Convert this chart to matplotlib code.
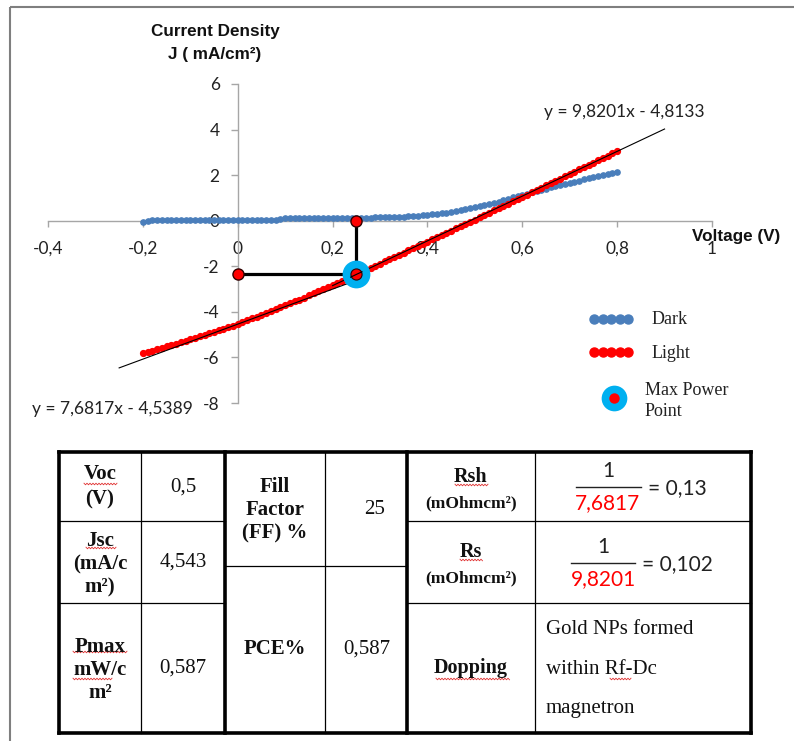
import numpy as np
import matplotlib
matplotlib.use("Agg")
import matplotlib.pyplot as plt
from matplotlib.ticker import FuncFormatter

# ---------------- data ----------------
voltage = [
    -0.20, -0.19, -0.18, -0.17, -0.16, -0.15, -0.14, -0.13, -0.12, -0.11,
    -0.10, -0.09, -0.08, -0.07, -0.06, -0.05, -0.04, -0.03, -0.02, -0.01,
    0.00, 0.01, 0.02, 0.03, 0.04, 0.05, 0.06, 0.07, 0.08, 0.09,
    0.10, 0.11, 0.12, 0.13, 0.14, 0.15, 0.16, 0.17, 0.18, 0.19,
    0.20, 0.21, 0.22, 0.23, 0.24, 0.25, 0.26, 0.27, 0.28, 0.29,
    0.30, 0.31, 0.32, 0.33, 0.34, 0.35, 0.36, 0.37, 0.38, 0.39,
    0.40, 0.41, 0.42, 0.43, 0.44, 0.45, 0.46, 0.47, 0.48, 0.49,
    0.50, 0.51, 0.52, 0.53, 0.54, 0.55, 0.56, 0.57, 0.58, 0.59,
    0.60, 0.61, 0.62, 0.63, 0.64, 0.65, 0.66, 0.67, 0.68, 0.69,
    0.70, 0.71, 0.72, 0.73, 0.74, 0.75, 0.76, 0.77, 0.78, 0.79,
    0.80,
]
j_dark = [
    -0.07, 0.00, 0.01, 0.02, 0.02, 0.02, 0.02, 0.02, 0.02, 0.02,
    0.02, 0.02, 0.02, 0.02, 0.02, 0.02, 0.02, 0.02, 0.02, 0.02,
    0.02, 0.02, 0.02, 0.02, 0.02, 0.02, 0.02, 0.02, 0.03, 0.09,
    0.10, 0.10, 0.10, 0.10, 0.10, 0.10, 0.10, 0.10, 0.10, 0.10,
    0.10, 0.10, 0.10, 0.10, 0.10, 0.10, 0.11, 0.11, 0.14, 0.15,
    0.15, 0.15, 0.15, 0.16, 0.17, 0.18, 0.19, 0.21, 0.22, 0.24,
    0.26, 0.28, 0.30, 0.32, 0.35, 0.38, 0.42, 0.46, 0.50, 0.54,
    0.58, 0.63, 0.68, 0.73, 0.78, 0.84, 0.90, 0.96, 1.02, 1.08,
    1.14, 1.19, 1.25, 1.30, 1.35, 1.41, 1.46, 1.52, 1.57, 1.62,
    1.67, 1.72, 1.76, 1.81, 1.86, 1.90, 1.95, 1.99, 2.04, 2.09,
    2.14,
]
j_light = [
    -5.82, -5.76, -5.70, -5.64, -5.58, -5.52, -5.46, -5.39, -5.33, -5.27,
    -5.20, -5.14, -5.07, -5.01, -4.94, -4.88, -4.81, -4.74, -4.67, -4.60,
    -4.53, -4.45, -4.37, -4.29, -4.21, -4.13, -4.05, -3.97, -3.89, -3.80,
    -3.72, -3.63, -3.54, -3.46, -3.37, -3.28, -3.19, -3.10, -3.01, -2.92,
    -2.83, -2.74, -2.64, -2.55, -2.45, -2.36, -2.26, -2.17, -2.07, -1.98,
    -1.88, -1.78, -1.69, -1.59, -1.50, -1.40, -1.30, -1.21, -1.11, -1.02,
    -0.92, -0.82, -0.73, -0.63, -0.54, -0.44, -0.34, -0.24, -0.15, -0.05,
    0.05, 0.15, 0.25, 0.35, 0.45, 0.55, 0.65, 0.75, 0.85, 0.95,
    1.05, 1.15, 1.25, 1.35, 1.45, 1.55, 1.65, 1.75, 1.85, 1.95,
    2.05, 2.15, 2.25, 2.35, 2.45, 2.55, 2.65, 2.75, 2.85, 2.95,
    3.05,
]

# linear fits: upper (series resistance) and lower (shunt) segments
fit_slopes = [9.8201, 7.6817]
fit_intercepts = [-4.8133, -4.5389]
fit_spans = [(0.20, 0.90), (-0.25, 0.24)]

# maximum power point
v_mpp = 0.25
j_mpp = -2.35

x_ticks = [-0.4, -0.2, 0.0, 0.2, 0.4, 0.6, 0.8, 1.0]
y_ticks = [-8, -6, -4, -2, 0, 2, 4, 6]

legend_labels = ["Dark", "Light", "Max Power\nPoint"]

# table values
voc_val = "0,5"
jsc_val = "4,543"
pmax_val = "0,587"
ff_val = "25"
pce_val = "0,587"
rsh_val = "0,13"
rs_val = "0,102"
dopping_lines = ["Gold NPs formed", "within Rf-Dc", "magnetron"]

# ---------------- figure ----------------
W, H = 794, 741
fig = plt.figure(figsize=(W / 100, H / 100), dpi=100)
fig.patch.set_facecolor("white")

# overlay in pixel coordinates for frame, legend, table
ov = fig.add_axes([0, 0, 1, 1])
ov.set_xlim(0, W)
ov.set_ylim(H, 0)
ov.axis("off")

SANS = ["Lato", "DejaVu Sans"]
ARIAL = ["Liberation Sans", "DejaVu Sans"]
SERIF = ["Liberation Serif", "DejaVu Serif"]

BLUE = "#4A7EBB"
RED = "#FF0000"
CYAN = "#00B0F0"

# chart frame
ov.plot([10, W + 5], [7, 7], color="#7F7F7F", lw=1.5, solid_capstyle="butt")
ov.plot([10, 10], [7, H + 5], color="#7F7F7F", lw=1.5, solid_capstyle="butt")

# ---------------- chart ----------------
ax = fig.add_axes([48 / W, 1 - 403 / H, (712 - 48) / W, (403 - 84) / H])
ax.patch.set_visible(False)
ax.set_xlim(-0.4, 1.0)
ax.set_ylim(-8, 6)
for s in ["top", "right"]:
    ax.spines[s].set_visible(False)
ax.spines["left"].set_position(("data", 0))
ax.spines["bottom"].set_position(("data", 0))
for s in ["left", "bottom"]:
    ax.spines[s].set_color("#A6A6A6")
    ax.spines[s].set_linewidth(1.0)

ax.set_xticks(x_ticks)
ax.set_yticks(y_ticks)
fmt = FuncFormatter(lambda v, p: f"{v:g}".replace(".", ","))
ax.xaxis.set_major_formatter(fmt)
ax.yaxis.set_major_formatter(fmt)
ax.tick_params(axis="x", direction="out", length=4.5, width=1, color="#A6A6A6",
               pad=10, labelsize=12.5)
ax.tick_params(axis="y", direction="out", length=5, width=1, color="#A6A6A6",
               pad=8, labelsize=12.5)
for lab in ax.get_xticklabels() + ax.get_yticklabels():
    lab.set_fontfamily(SANS)
    lab.set_color("#222222")

v = np.array(voltage)
ax.plot(v, j_dark, linestyle="none", marker="o", ms=3.8, color=BLUE, zorder=3)
ax.plot(v, j_light, linestyle="none", marker="o", ms=4.2, color=RED, zorder=4)

for m, b, (x0, x1) in zip(fit_slopes, fit_intercepts, fit_spans):
    xx = np.array([x0, x1])
    ax.plot(xx, m * xx + b, color="black", lw=0.8, zorder=5)

# max power rectangle guides
ax.plot([v_mpp, v_mpp], [0, j_mpp], color="black", lw=2.3, zorder=6,
        solid_capstyle="butt")
ax.plot([0, v_mpp], [j_mpp, j_mpp], color="black", lw=2.3, zorder=6,
        solid_capstyle="butt")
ax.plot([v_mpp, 0], [0, j_mpp], linestyle="none", marker="o", ms=8,
        markerfacecolor=RED, markeredgecolor="#300000", markeredgewidth=1,
        zorder=7, clip_on=False)
ax.plot([v_mpp], [j_mpp], linestyle="none", marker="o", ms=20, color=CYAN,
        markeredgewidth=0, zorder=6.5, clip_on=False)
ax.plot([v_mpp], [j_mpp], linestyle="none", marker="o", ms=8,
        markerfacecolor=RED, markeredgecolor="#300000", markeredgewidth=0.8,
        zorder=8, clip_on=False)
ax.plot(v_mpp + np.array([-0.012, 0.012]),
        fit_slopes[0] * (v_mpp + np.array([-0.012, 0.012])) + fit_intercepts[0],
        color="black", lw=0.8, zorder=9)

def eq_text(m, b):
    return f"y = {m:.4f}x - {abs(b):.4f}".replace(".", ",")

ov.text(705, 112, eq_text(fit_slopes[0], fit_intercepts[0]), ha="right",
        va="center", fontsize=12.5, family=SANS, color="#222222")
ov.text(193, 409, eq_text(fit_slopes[1], fit_intercepts[1]), ha="right",
        va="center", fontsize=12.5, family=SANS, color="#222222")

# axis titles
ov.text(215, 43, "Current Density\nJ ( mA/cm²)", ha="center", va="center",
        fontsize=12.3, family=ARIAL, fontweight="bold", linespacing=1.6,
        color="#111111")
ov.text(692, 237, "Voltage (V)", ha="left", va="center", fontsize=12.3,
        family=ARIAL, fontweight="bold", color="#111111")

# legend
for i in range(5):
    ov.plot(594 + i * 8.6, 319, marker="o", ms=6.5, color=BLUE)
    ov.plot(594 + i * 8.6, 352, marker="o", ms=6.5, color=RED)
ov.plot(614, 398, marker="o", ms=18.5, color=CYAN, markeredgewidth=0)
ov.plot(614, 398, marker="o", ms=7.5, color=RED, markeredgewidth=0)
ov.text(652, 319, legend_labels[0], ha="left", va="center", fontsize=13,
        family=SERIF, color="#222222")
ov.text(652, 353, legend_labels[1], ha="left", va="center", fontsize=13,
        family=SERIF, color="#222222")
ov.text(645, 401, legend_labels[2], ha="left", va="center", fontsize=13,
        family=SERIF, color="#222222", linespacing=1.3)

# ---------------- table ----------------
def hline(x0, x1, y, lw):
    ov.plot([x0, x1], [y, y], color="black", lw=lw, solid_capstyle="projecting")

def vline(x, y0, y1, lw):
    ov.plot([x, x], [y0, y1], color="black", lw=lw, solid_capstyle="projecting")

L, R, T, B = 59, 751, 452, 733
THICK, THIN = 2.6, 0.9
hline(L, R, T, THICK)
hline(L, R, B, THICK)
vline(L, T, B, THICK)
vline(R, T, B, THICK)
vline(225, T, B, THICK)
vline(407, T, B, THICK)
vline(141, T, B, THIN)
vline(325, T, B, THIN)
vline(535, T, B, THIN)
hline(L, 225, 521, THIN)
hline(L, 225, 603, THIN)
hline(225, 407, 566, THIN)
hline(407, R, 521, THIN)
hline(407, R, 603, THIN)

def cell(x, y, s, bold=False, size=15, ha="center", ls=1.25, color="#111111",
         family=SERIF):
    ov.text(x, y, s, ha=ha, va="center", fontsize=size, family=family,
            fontweight="bold" if bold else "normal", linespacing=ls,
            color=color)

def squiggle(x0, x1, y):
    xs = np.arange(x0, x1 + 0.1, 1.5)
    ys = y + 0.8 * np.where(np.arange(len(xs)) % 2 == 0, -1, 1)
    ov.plot(xs, ys, color="#E03030", lw=0.6)

cell(100, 487, "Voc\n(V)", bold=True, ls=1.35)
cell(183, 487, voc_val)
cell(100, 564, "Jsc\n(mA/c\nm²)", bold=True, ls=1.2)
cell(183, 562, jsc_val)
cell(100, 670, "Pmax\nmW/c\nm²", bold=True, ls=1.2)
cell(183, 668, pmax_val)
cell(275, 510, "Fill\nFactor\n(FF) %", bold=True, ls=1.2)
cell(375, 510, ff_val)
cell(275, 649, "PCE%", bold=True)
cell(367, 649, pce_val)

cell(471, 477, "Rsh", bold=True, size=14.5)
cell(471, 503, "(mOhmcm²)", bold=True, size=12.5)
cell(471, 552, "Rs", bold=True, size=14.5)
cell(471, 578, "(mOhmcm²)", bold=True, size=12.5)
cell(471, 668, "Dopping", bold=True, size=14.5)

squiggle(84, 117, 484)
squiggle(86, 116, 548)
squiggle(73, 128, 652)
squiggle(73, 113, 679)
squiggle(455, 488, 485)
squiggle(460, 483, 560)
squiggle(436, 510, 679)
squiggle(610, 631, 679)

# resistance fractions
def fraction(xc, y_line, x0, x1, denom, value):
    ov.plot([x0, x1], [y_line, y_line], color="#222222", lw=1.0)
    ov.text(xc, y_line - 16, "1", ha="center", va="center", fontsize=15,
            family=SANS, color="#222222")
    ov.text(xc, y_line + 16, denom, ha="center", va="center", fontsize=15,
            family=SANS, color=RED)
    ov.text(x1 + 7, y_line + 1, "= " + value, ha="left", va="center",
            fontsize=15, family=SANS, color="#222222")

fraction(608, 487, 576, 641, f"{fit_slopes[1]:.4f}".replace(".", ","), rsh_val)
fraction(603, 563, 571, 635, f"{fit_slopes[0]:.4f}".replace(".", ","), rs_val)

for i, line in enumerate(dopping_lines):
    ov.text(546, 630 + i * 39, line, ha="left", va="center", fontsize=15,
            family=SERIF, color="#111111")

fig.savefig("out.png", dpi=100, facecolor="white")
